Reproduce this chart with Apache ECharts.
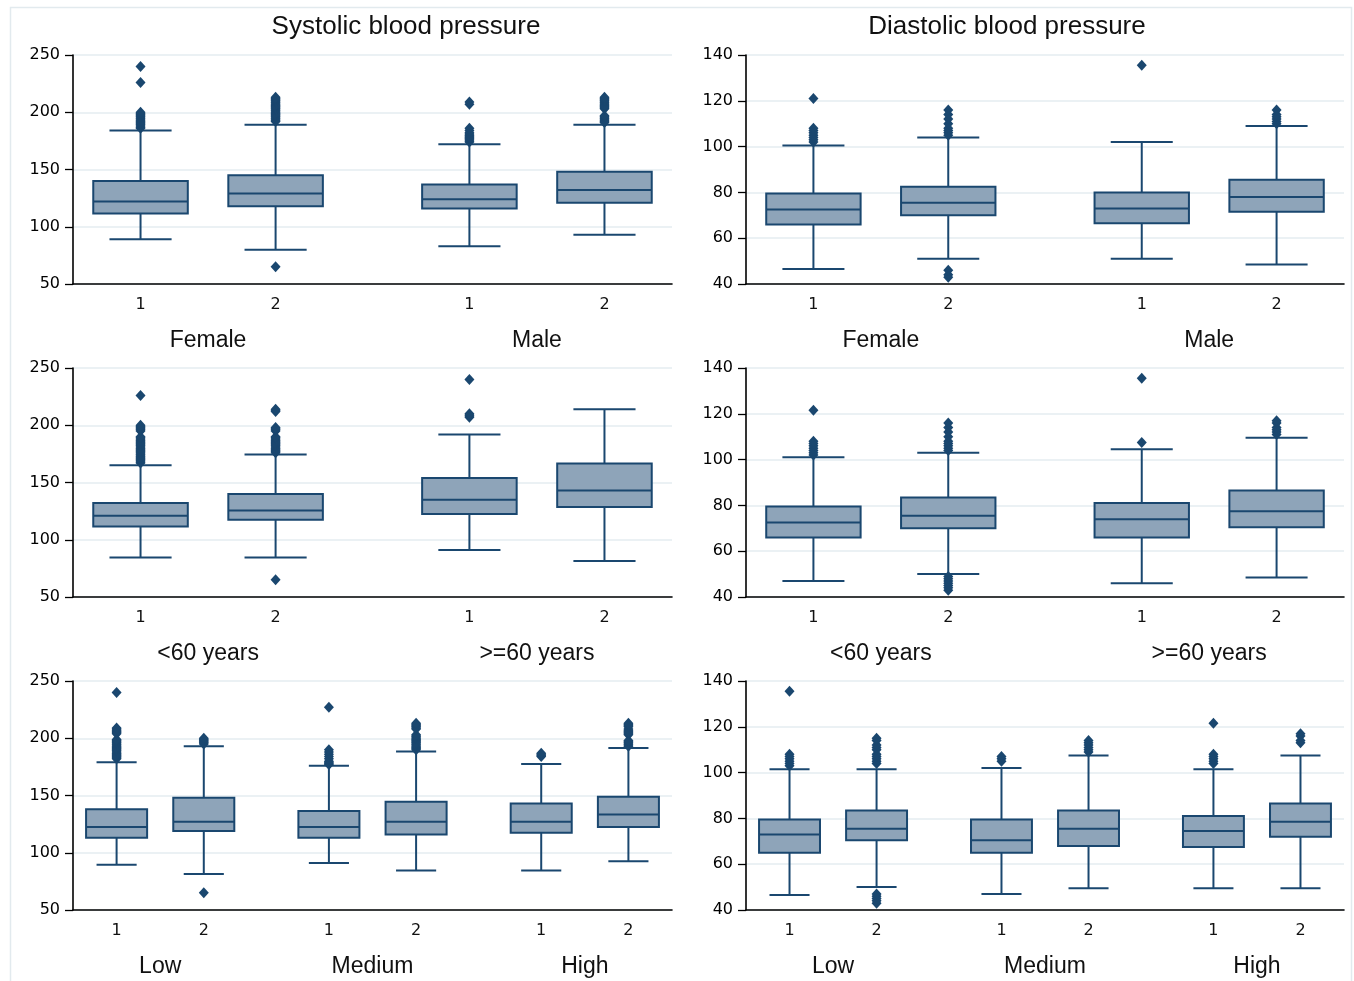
<!DOCTYPE html>
<html><head><meta charset="utf-8">
<script src="https://cdn.jsdelivr.net/npm/echarts@6.0.0/dist/echarts.min.js"></script>
<style>html,body{margin:0;padding:0;background:#fff}#c{width:1354px;height:981px}</style>
</head><body><div id="c"></div><script>
// ---------- data ----------
const panelTitles = ['Systolic blood pressure', 'Diastolic blood pressure'];
const boxLabels = ['1', '2'];
const sexGroups = ['Female', 'Male'];
const ageGroups = ['<60 years', '>=60 years'];
const incomeGroups = ['Low', 'Medium', 'High'];
const sbpTicks = [50, 100, 150, 200, 250];
const dbpTicks = [40, 60, 80, 100, 120, 140];

// each box: [min, Q1, median, Q3, max]
const sbpSexStats = [
  [89, 111.5, 122, 140, 184],
  [80, 118, 129, 145, 189],
  [83, 116, 124, 137, 172],
  [93, 121, 132, 148, 189]
];
const sbpSexOutliers = [
  [186, 187, 188, 189, 190, 191, 192, 193, 194, 195, 196, 197, 198, 199, 200, 226, 240],
  [65, 192, 193, 194, 195, 196, 197, 198, 199, 200, 201, 202, 203, 204, 205, 206, 207, 208, 209, 210, 211, 212, 213],
  [174, 175, 176, 177, 178, 179, 180, 181, 182, 184, 186, 207, 209],
  [191, 192, 193, 194, 195, 196, 197, 203, 204, 205, 206, 207, 208, 209, 210, 211, 212, 213]
];
const dbpSexStats = [
  [46.5, 66, 72.5, 79.5, 100.5],
  [51, 70, 75.5, 82.5, 104],
  [51, 66.5, 73, 80, 102],
  [48.5, 71.5, 78, 85.5, 109]
];
const dbpSexOutliers = [
  [102, 103, 104, 105, 106, 107, 108, 121],
  [43, 44, 46, 105, 106, 107, 108, 110, 112, 114, 116],
  [135.5],
  [110, 111, 112, 113, 114, 116]
];
const sbpAgeStats = [
  [84.5, 111.5, 121, 132, 165],
  [84.5, 117.5, 125.5, 140, 174.5],
  [91, 122.5, 135, 154, 192],
  [81.5, 128.5, 143, 166.5, 214]
];
const sbpAgeOutliers = [
  [167, 168, 169, 170, 171, 172, 173, 174, 175, 176, 177, 178, 179, 180, 181, 182, 183, 184, 185, 186, 187, 188, 189, 190, 195, 196, 197, 198, 199, 200, 226],
  [65, 176, 177, 178, 179, 180, 181, 182, 183, 184, 185, 186, 187, 188, 189, 190, 195, 196, 197, 198, 212, 213, 214],
  [207, 208, 209, 210, 240],
  []
];
const dbpAgeStats = [
  [47, 66, 72.5, 79.5, 101],
  [50, 70, 75.5, 83.5, 103],
  [46, 66, 74, 81, 104.5],
  [48.5, 70.5, 77.5, 86.5, 109.5]
];
const dbpAgeOutliers = [
  [102, 103, 104, 105, 106, 107, 108, 121.5],
  [43, 44, 45, 46, 47, 48, 49, 104, 105, 106, 107, 108, 110, 112, 114, 116],
  [107.5, 135.5],
  [111, 112, 113, 114, 116, 117]
];
const sbpIncomeStats = [
  [89.5, 113, 122.5, 138, 179],
  [81.5, 119, 127, 148, 193],
  [91, 113, 122.5, 136.5, 176],
  [84.5, 116, 127, 144.5, 188.5],
  [84.5, 117.5, 127, 143, 177.5],
  [92.5, 122.5, 133.5, 149, 191.5]
];
const sbpIncomeOutliers = [
  [182, 183, 184, 185, 186, 187, 188, 189, 190, 191, 192, 193, 194, 195, 196, 197, 198, 199, 204, 205, 206, 207, 208, 209, 240],
  [65, 195, 196, 197, 198, 199, 200],
  [177, 178, 179, 180, 182, 184, 186, 188, 190, 227],
  [190, 191, 192, 193, 194, 195, 196, 197, 198, 199, 200, 201, 202, 203, 208, 209, 210, 211, 212, 213],
  [184, 185, 186, 187],
  [193, 194, 195, 196, 197, 198, 203, 204, 205, 206, 207, 208, 210, 211, 212, 213]
];
const dbpIncomeStats = [
  [46.5, 65, 73, 79.5, 101.5],
  [50, 70.5, 75.5, 83.5, 101.5],
  [47, 65, 70.5, 79.5, 102],
  [49.5, 68, 75.5, 83.5, 107.5],
  [49.5, 67.5, 74.5, 81, 101.5],
  [49.5, 72, 78.5, 86.5, 107.5]
];
const dbpIncomeOutliers = [
  [103, 104, 105, 106, 107, 108, 135.5],
  [43, 44, 45, 46, 47, 104, 105, 106, 107, 108, 110, 111, 112, 114, 115],
  [105, 106, 107],
  [109, 110, 111, 112, 113, 114],
  [104, 105, 106, 107, 108, 121.5],
  [113, 114, 116, 117]
];

// ---------- layout & style ----------
const FONT = '"Liberation Sans", Arial, sans-serif';
const TICK_FONT = '"DejaVu Sans", Verdana, sans-serif';
const NAVY = '#1a476f';
const BOX_FILL = '#8ea4b9';
const GRID_LEFT = [73, 746];
const GRID_WIDTH = [599, 598];
const GRID_TOP = [55, 368, 681];
const GRID_HEIGHT = 229;
const GAP = 0.435;   // gap between groups, in box units
const BOX_W = 0.7;   // box width, in box units
const CAP_W = 0.46;  // whisker cap width, in box units

const panels = [
  { col: 0, row: 0, groups: sexGroups, stats: sbpSexStats, out: sbpSexOutliers, ticks: sbpTicks },
  { col: 1, row: 0, groups: sexGroups, stats: dbpSexStats, out: dbpSexOutliers, ticks: dbpTicks },
  { col: 0, row: 1, groups: ageGroups, stats: sbpAgeStats, out: sbpAgeOutliers, ticks: sbpTicks },
  { col: 1, row: 1, groups: ageGroups, stats: dbpAgeStats, out: dbpAgeOutliers, ticks: dbpTicks },
  { col: 0, row: 2, groups: incomeGroups, stats: sbpIncomeStats, out: sbpIncomeOutliers, ticks: sbpTicks },
  { col: 1, row: 2, groups: incomeGroups, stats: dbpIncomeStats, out: dbpIncomeOutliers, ticks: dbpTicks }
];

function renderBox(params, api) {
  const x = api.value(0);
  const c = v => api.coord([x, v]);
  const pMin = c(api.value(1)), pQ1 = c(api.value(2)), pMed = c(api.value(3)),
        pQ3 = c(api.value(4)), pMax = c(api.value(5));
  const half = api.size([BOX_W, 0])[0] / 2;
  const capHalf = api.size([CAP_W, 0])[0] / 2;
  const ls = { stroke: NAVY, lineWidth: 2 };
  const cx = pMed[0];
  return {
    type: 'group',
    children: [
      { type: 'line', shape: { x1: cx, y1: pMin[1], x2: cx, y2: pQ1[1] }, style: ls },
      { type: 'line', shape: { x1: cx, y1: pQ3[1], x2: cx, y2: pMax[1] }, style: ls },
      { type: 'line', shape: { x1: cx - capHalf, y1: pMin[1], x2: cx + capHalf, y2: pMin[1] }, style: ls },
      { type: 'line', shape: { x1: cx - capHalf, y1: pMax[1], x2: cx + capHalf, y2: pMax[1] }, style: ls },
      { type: 'rect', shape: { x: cx - half, y: pQ3[1], width: 2 * half, height: pQ1[1] - pQ3[1] },
        style: { fill: BOX_FILL, stroke: NAVY, lineWidth: 2 } },
      { type: 'line', shape: { x1: cx - half, y1: pMed[1], x2: cx + half, y2: pMed[1] }, style: ls }
    ]
  };
}

const grids = [], xAxes = [], yAxes = [], series = [];
panels.forEach((p, idx) => {
  grids.push({ left: GRID_LEFT[p.col], top: GRID_TOP[p.row], width: GRID_WIDTH[p.col], height: GRID_HEIGHT });
  const nG = p.groups.length;
  const xMax = nG * 2 + (nG - 1) * GAP;
  const pos = p.stats.map((s, k) => 0.5 + Math.floor(k / 2) * (2 + GAP) + (k % 2));
  const centers = p.groups.map((g, gi) => 1 + gi * (2 + GAP));
  const findIdx = (arr, v) => arr.findIndex(a => Math.abs(a - v) < 1e-6);
  xAxes.push({
    gridIndex: idx, type: 'value', min: 0, max: xMax, position: 'bottom',
    axisLine: { show: true, onZero: false, lineStyle: { color: '#000', width: 1.6 } },
    axisTick: { show: false }, splitLine: { show: false },
    axisLabel: { customValues: pos, formatter: v => boxLabels[findIdx(pos, v) % 2], fontSize: 16, color: '#111', margin: 13, fontFamily: TICK_FONT }
  });
  xAxes.push({
    gridIndex: idx, type: 'value', min: 0, max: xMax, position: 'bottom',
    axisLine: { show: false }, axisTick: { show: false }, splitLine: { show: false },
    axisLabel: { customValues: centers, formatter: v => p.groups[findIdx(centers, v)], fontSize: 23, color: '#111', margin: 45, fontFamily: FONT }
  });
  yAxes.push({
    gridIndex: idx, type: 'value', min: p.ticks[0], max: p.ticks[p.ticks.length - 1], interval: p.ticks[1] - p.ticks[0],
    axisLine: { show: true, lineStyle: { color: '#000', width: 1.6 } },
    axisTick: { show: true, length: 8, lineStyle: { color: '#000', width: 1.3 } },
    splitLine: { show: true, lineStyle: { color: '#e4edf1', width: 1.5 } },
    axisLabel: { fontSize: 16, color: '#000', margin: 13, fontFamily: TICK_FONT }
  });
  series.push({
    type: 'custom', xAxisIndex: 2 * idx, yAxisIndex: idx, silent: true, clip: false,
    encode: { x: 0, y: [1, 2, 3, 4, 5] },
    data: p.stats.map((s, k) => [pos[k]].concat(s)),
    renderItem: renderBox
  });
  const outData = [];
  p.out.forEach((vals, k) => vals.forEach(v => outData.push([pos[k], v])));
  series.push({
    type: 'scatter', xAxisIndex: 2 * idx, yAxisIndex: idx, silent: true, clip: false,
    symbol: 'diamond', symbolSize: [10, 11], itemStyle: { color: NAVY, opacity: 1 },
    data: outData, z: 5
  });
});

const chart = echarts.init(document.getElementById('c'), null, { renderer: 'canvas' });
chart.setOption({
  animation: false,
  backgroundColor: '#fff',
  textStyle: { fontFamily: FONT },
  title: [
    { text: panelTitles[0], left: 406, top: 14, textAlign: 'center', padding: 0,
      textStyle: { fontSize: 26, fontWeight: 'normal', color: '#111', fontFamily: FONT } },
    { text: panelTitles[1], left: 1007, top: 14, textAlign: 'center', padding: 0,
      textStyle: { fontSize: 26, fontWeight: 'normal', color: '#111', fontFamily: FONT } }
  ],
  graphic: [
    { type: 'rect', silent: true, z: -10, shape: { x: 10.5, y: 7.5, width: 1341, height: 990 },
      style: { fill: 'none', stroke: '#e2eaee', lineWidth: 1.5 } }
  ],
  grid: grids,
  xAxis: xAxes,
  yAxis: yAxes,
  series: series
});
</script></body></html>
